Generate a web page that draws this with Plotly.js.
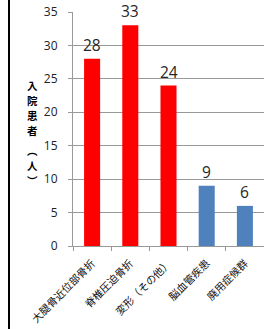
<!DOCTYPE html>
<html><head><meta charset="utf-8">
<script src="https://cdn.plot.ly/plotly-3.0.1.min.js"></script>
<style>html,body{margin:0;padding:0;background:#fff;}#chart{width:264px;height:329px;}</style>
</head><body><div id="chart"></div>
<script>
const categories = ["大腿骨近位部骨折", "脊椎圧迫骨折", "変形（その他）", "脳血管疾患", "廃用症候群"];
const patients = [28, 33, 24, 9, 6];
const barColors = ["#FF0000", "#FF0000", "#FF0000", "#4F81BD", "#4F81BD"];
const yTitleChars = ["入", "院", "患", "者", "︵", "人", "︶"];

(function () {
const H = 329, mTop = 12, mBottom = 83, mLeft = 73;
const plotH = H - mTop - mBottom;
const yPix = [85, 100, 115, 130, 150, 165, 180];
const annotations = yTitleChars.map((c, i) => ({
  text: c, xref: "paper", yref: "paper", showarrow: false,
  x: (32 - mLeft) / 191, y: (H - mBottom - yPix[i]) / plotH,
  xanchor: "center", yanchor: "middle", borderpad: 0,
  font: {family: "Noto Sans CJK JP", size: 10.5, color: "#000", weight: 700}
}));
categories.forEach((c, i) => annotations.push({
  text: String(patients[i]), x: c, y: patients[i], xref: "x", yref: "y",
  showarrow: false, xanchor: "center", yanchor: "bottom", yshift: 2, borderpad: 0,
  font: {family: "Open Sans, DejaVu Sans", size: 15.5, color: "#262626"}
}));

Plotly.newPlot("chart", [{
  type: "bar", x: categories, y: patients,
  marker: {color: barColors, line: {width: 0}},
  hoverinfo: "none"
}], {
  width: 264, height: 329,
  margin: {l: mLeft, r: 0, t: mTop, b: mBottom, pad: 0},
  paper_bgcolor: "#fff", plot_bgcolor: "#fff",
  bargap: 0.58, showlegend: false,
  xaxis: {
    type: "category", tickangle: -45, tickson: "boundaries",
    ticks: "outside", ticklen: 4, tickcolor: "#999", ticklabelstandoff: 6,
    showline: true, linecolor: "#999", linewidth: 1,
    tickfont: {family: "Noto Sans CJK JP", size: 10.5, color: "#111"},
    showgrid: false, fixedrange: true
  },
  yaxis: {
    range: [0, 35], dtick: 5, ticks: "outside", ticklen: 4, tickcolor: "#999",
    ticklabelstandoff: 8,
    showline: true, linecolor: "#999", linewidth: 1,
    gridcolor: "#999", gridwidth: 1, zeroline: false,
    tickfont: {family: "Open Sans, DejaVu Sans", size: 12, color: "#222"},
    fixedrange: true
  },
  shapes: [{type: "line", xref: "paper", yref: "paper",
    x0: (9 - mLeft) / 191, x1: (9 - mLeft) / 191,
    y0: -mBottom / plotH, y1: (H - mBottom) / plotH,
    line: {color: "#000", width: 2}}],
  annotations: annotations
}, {displayModeBar: false, staticPlot: true});
})();
</script></body></html>
